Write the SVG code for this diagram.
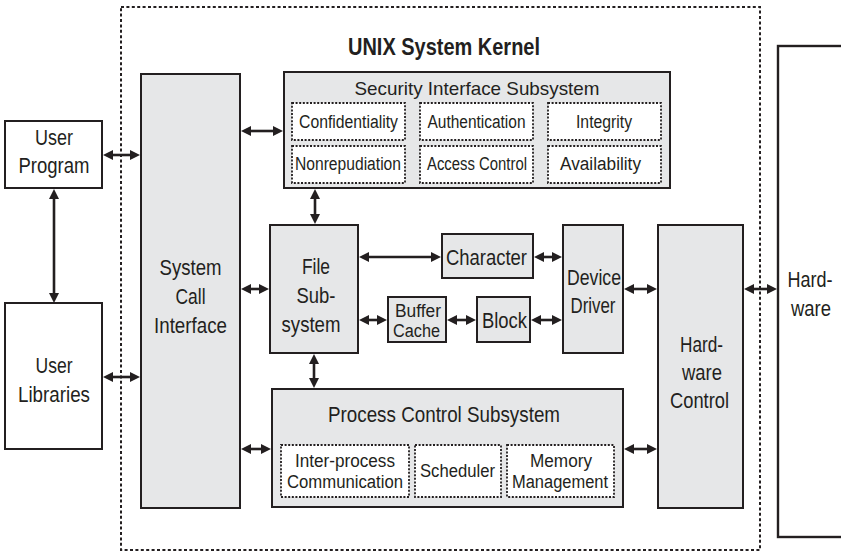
<svg xmlns="http://www.w3.org/2000/svg" width="841" height="552" viewBox="0 0 841 552">
<style>
  .box{fill:#e6e7e8;stroke:#231f20;stroke-width:2}
  .wbox{fill:#ffffff;stroke:#231f20;stroke-width:2}
  .dot{fill:#ffffff;stroke:#231f20;stroke-width:1.8;stroke-dasharray:2 1.6}
  .frame{fill:none;stroke:#231f20;stroke-width:2;stroke-dasharray:3 2.4}
  .c{stroke:#231f20;stroke-width:2.6;fill:none;marker-start:url(#ah);marker-end:url(#ah)}
  text{font-family:"Liberation Sans Narrow","Liberation Sans",Arial,sans-serif;fill:#231f20;text-anchor:middle}
  .L{font-size:22px}
  .M{font-size:19px}
  .S{font-size:18px}
  .T{font-size:24px;font-weight:bold}
</style>
<defs>
  <marker id="ah" viewBox="0 0 10 10" refX="5" refY="5" markerWidth="10" markerHeight="10" markerUnits="userSpaceOnUse" orient="auto-start-reverse">
    <path d="M0,0 L10,5 L0,10 z" fill="#231f20"/>
  </marker>
</defs>

<rect class="frame" x="121" y="7" width="639" height="543"/>
<text class="T" x="444" y="55" textLength="192" lengthAdjust="spacingAndGlyphs">UNIX System Kernel</text>

<g id="user-program">
  <rect class="wbox" x="5" y="121" width="97" height="67"/>
  <text class="L" x="54" y="145" textLength="38" lengthAdjust="spacingAndGlyphs">User</text>
  <text class="L" x="54" y="173" textLength="71" lengthAdjust="spacingAndGlyphs">Program</text>
</g>
<g id="user-libraries">
  <rect class="wbox" x="5" y="303" width="97" height="146"/>
  <text class="L" x="54" y="373" textLength="37" lengthAdjust="spacingAndGlyphs">User</text>
  <text class="L" x="54" y="402" textLength="72" lengthAdjust="spacingAndGlyphs">Libraries</text>
</g>
<g id="system-call-interface">
  <rect class="box" x="141" y="74" width="99" height="434"/>
  <text class="L" x="190.5" y="275" textLength="62" lengthAdjust="spacingAndGlyphs">System</text>
  <text class="L" x="190.5" y="304" textLength="30" lengthAdjust="spacingAndGlyphs">Call</text>
  <text class="L" x="190.5" y="333" textLength="73" lengthAdjust="spacingAndGlyphs">Interface</text>
</g>
<g id="security-interface-subsystem">
  <rect class="box" x="284" y="72" width="386" height="116"/>
  <text class="M" x="477" y="95" textLength="245" lengthAdjust="spacingAndGlyphs">Security Interface Subsystem</text>
  <g id="confidentiality">
    <rect class="dot" x="292" y="103" width="113" height="37"/>
    <text class="S" x="348.5" y="128" textLength="99" lengthAdjust="spacingAndGlyphs">Confidentiality</text>
  </g>
  <g id="authentication">
    <rect class="dot" x="420" y="103" width="113" height="37"/>
    <text class="S" x="476.5" y="128" textLength="98" lengthAdjust="spacingAndGlyphs">Authentication</text>
  </g>
  <g id="integrity">
    <rect class="dot" x="548" y="103" width="113" height="37"/>
    <text class="S" x="604" y="128" textLength="56" lengthAdjust="spacingAndGlyphs">Integrity</text>
  </g>
  <g id="nonrepudiation">
    <rect class="dot" x="292" y="146" width="113" height="37"/>
    <text class="S" x="348" y="170" textLength="106" lengthAdjust="spacingAndGlyphs">Nonrepudiation</text>
  </g>
  <g id="access-control">
    <rect class="dot" x="420" y="146" width="113" height="37"/>
    <text class="S" x="477" y="170" textLength="100" lengthAdjust="spacingAndGlyphs">Access Control</text>
  </g>
  <g id="availability">
    <rect class="dot" x="548" y="146" width="113" height="37"/>
    <text class="S" x="600.5" y="170" textLength="81" lengthAdjust="spacingAndGlyphs">Availability</text>
  </g>
</g>
<g id="file-subsystem">
  <rect class="box" x="270" y="225" width="88" height="128"/>
  <text class="L" x="316" y="274" textLength="28" lengthAdjust="spacingAndGlyphs">File</text>
  <text class="L" x="316" y="303" textLength="39" lengthAdjust="spacingAndGlyphs">Sub-</text>
  <text class="L" x="311" y="332" textLength="59" lengthAdjust="spacingAndGlyphs">system</text>
</g>
<g id="character">
  <rect class="box" x="442" y="234" width="91" height="44"/>
  <text class="L" x="486.5" y="265" textLength="81" lengthAdjust="spacingAndGlyphs">Character</text>
</g>
<g id="buffer-cache">
  <rect class="box" x="388" y="297" width="58" height="45"/>
  <text class="S" x="418" y="317" textLength="46" lengthAdjust="spacingAndGlyphs">Buffer</text>
  <text class="S" x="416.5" y="337" textLength="47" lengthAdjust="spacingAndGlyphs">Cache</text>
</g>
<g id="block">
  <rect class="box" x="477" y="297" width="53" height="45"/>
  <text class="L" x="504.5" y="328" textLength="45" lengthAdjust="spacingAndGlyphs">Block</text>
</g>
<g id="device-driver">
  <rect class="box" x="563" y="225" width="60" height="128"/>
  <text class="L" x="594" y="285" textLength="54" lengthAdjust="spacingAndGlyphs">Device</text>
  <text class="L" x="593" y="313" textLength="45" lengthAdjust="spacingAndGlyphs">Driver</text>
</g>
<g id="hardware-control">
  <rect class="box" x="658" y="225" width="85" height="283"/>
  <text class="L" x="701.5" y="352" textLength="43" lengthAdjust="spacingAndGlyphs">Hard-</text>
  <text class="L" x="702" y="380" textLength="40" lengthAdjust="spacingAndGlyphs">ware</text>
  <text class="L" x="699.5" y="408" textLength="59" lengthAdjust="spacingAndGlyphs">Control</text>
</g>
<g id="process-control-subsystem">
  <rect class="box" x="272" y="389" width="351" height="118"/>
  <text class="L" x="444" y="422" textLength="232" lengthAdjust="spacingAndGlyphs">Process Control Subsystem</text>
  <g id="inter-process-communication">
    <rect class="dot" x="281" y="445" width="128" height="52"/>
    <text class="S" x="345" y="467" textLength="100" lengthAdjust="spacingAndGlyphs">Inter-process</text>
    <text class="S" x="345" y="488" textLength="116" lengthAdjust="spacingAndGlyphs">Communication</text>
  </g>
  <g id="scheduler">
    <rect class="dot" x="415" y="445" width="86" height="52"/>
    <text class="S" x="457.5" y="477" textLength="75" lengthAdjust="spacingAndGlyphs">Scheduler</text>
  </g>
  <g id="memory-management">
    <rect class="dot" x="507" y="445" width="107" height="52"/>
    <text class="S" x="561" y="467" textLength="62" lengthAdjust="spacingAndGlyphs">Memory</text>
    <text class="S" x="560" y="488" textLength="96" lengthAdjust="spacingAndGlyphs">Management</text>
  </g>
</g>
<g id="hardware">
  <rect x="778" y="46" width="90" height="491" fill="#ffffff" stroke="#231f20" stroke-width="2.4"/>
  <text class="L" x="810" y="287" textLength="45" lengthAdjust="spacingAndGlyphs">Hard-</text>
  <text class="L" x="811" y="316" textLength="40" lengthAdjust="spacingAndGlyphs">ware</text>
</g>

<g id="connectors">
  <line class="c" x1="108" y1="155" x2="135" y2="155"/>
  <line class="c" x1="54" y1="194" x2="54" y2="298"/>
  <line class="c" x1="108" y1="377" x2="135" y2="377"/>
  <line class="c" x1="246" y1="131" x2="278" y2="131"/>
  <line class="c" x1="246" y1="289" x2="264" y2="289"/>
  <line class="c" x1="246" y1="449" x2="266" y2="449"/>
  <line class="c" x1="315" y1="194" x2="315" y2="219"/>
  <line class="c" x1="314" y1="359" x2="314" y2="383"/>
  <line class="c" x1="364" y1="257" x2="436" y2="257"/>
  <line class="c" x1="539" y1="257" x2="557" y2="257"/>
  <line class="c" x1="364" y1="320" x2="382" y2="320"/>
  <line class="c" x1="452" y1="320" x2="471" y2="320"/>
  <line class="c" x1="536" y1="320" x2="557" y2="320"/>
  <line class="c" x1="629" y1="289" x2="652" y2="289"/>
  <line class="c" x1="749" y1="289" x2="772" y2="289"/>
  <line class="c" x1="629" y1="449" x2="652" y2="449"/>
</g>
</svg>
